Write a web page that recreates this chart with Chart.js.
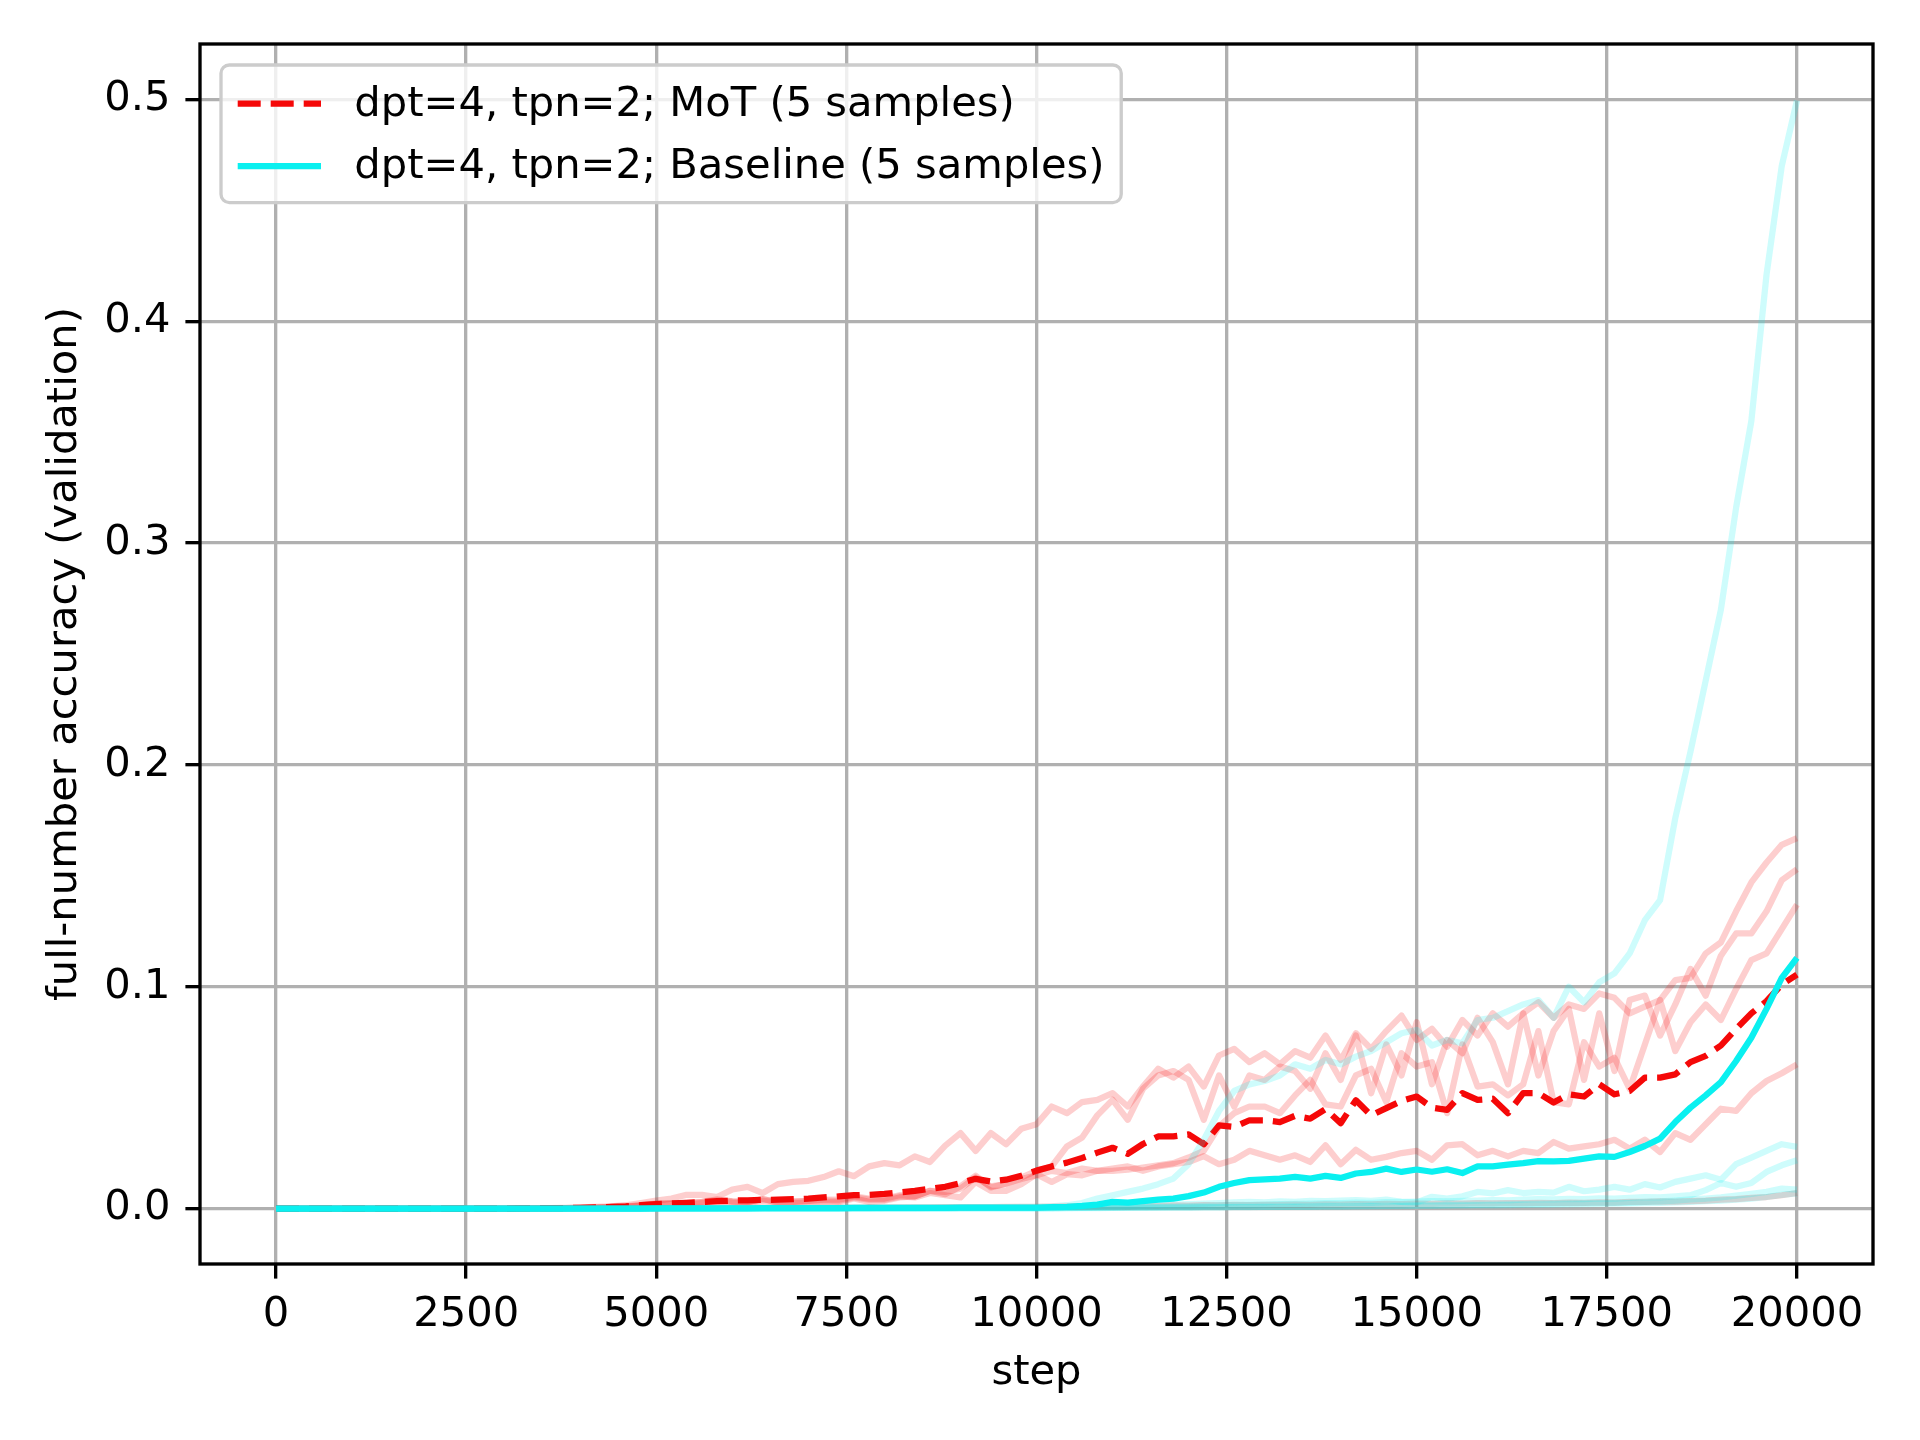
<!DOCTYPE html>
<html>
<head>
<meta charset="utf-8">
<title>full-number accuracy (validation)</title>
<script src="https://cdn.jsdelivr.net/npm/chart.js@4.4.1/dist/chart.umd.min.js"></script>
<style>
  html, body { margin: 0; padding: 0; background: #fff; }
  #wrap { width: 1920px; height: 1440px; }
</style>
</head>
<body>
<div id="wrap"><canvas id="accChart" width="1920" height="1440"></canvas></div>
<script>
// --- data (one value every 200 steps) ---
const steps = [
    0, 200, 400, 600, 800, 1000, 1200, 1400, 1600, 1800,
    2000, 2200, 2400, 2600, 2800, 3000, 3200, 3400, 3600, 3800,
    4000, 4200, 4400, 4600, 4800, 5000, 5200, 5400, 5600, 5800,
    6000, 6200, 6400, 6600, 6800, 7000, 7200, 7400, 7600, 7800,
    8000, 8200, 8400, 8600, 8800, 9000, 9200, 9400, 9600, 9800,
    10000, 10200, 10400, 10600, 10800, 11000, 11200, 11400, 11600, 11800,
    12000, 12200, 12400, 12600, 12800, 13000, 13200, 13400, 13600, 13800,
    14000, 14200, 14400, 14600, 14800, 15000, 15200, 15400, 15600, 15800,
    16000, 16200, 16400, 16600, 16800, 17000, 17200, 17400, 17600, 17800,
    18000, 18200, 18400, 18600, 18800, 19000, 19200, 19400, 19600, 19800,
    20000
];

const xTicks = [0, 2500, 5000, 7500, 10000, 12500, 15000, 17500, 20000];
const yTicks = [0, 0.1, 0.2, 0.3, 0.4, 0.5];

const motLabel = 'dpt=4, tpn=2; MoT (5 samples)';
const baseLabel = 'dpt=4, tpn=2; Baseline (5 samples)';

// MoT runs
const mot1 = [
    0, 0, 0, 0, 0, 0, 0, 0, 0, 0,
    0, 0, 0, 0, 0, 0, 0.0001, 0.0002, 0.0002, 0.0003,
    0.0005, 0.0008, 0.001, 0.0015, 0.0025, 0.0036, 0.0045, 0.0062, 0.0062, 0.0052,
    0.0086, 0.0098, 0.007, 0.011, 0.012, 0.0125, 0.0142, 0.0168, 0.0146, 0.019,
    0.0205, 0.0195, 0.0235, 0.021, 0.0284, 0.034, 0.026, 0.034, 0.029, 0.036,
    0.038, 0.046, 0.043, 0.048, 0.049, 0.052, 0.046, 0.055, 0.063, 0.059,
    0.064, 0.055, 0.069, 0.072, 0.066, 0.070, 0.065, 0.071, 0.068, 0.078,
    0.067, 0.079, 0.072, 0.080, 0.087, 0.076, 0.081, 0.073, 0.085, 0.078,
    0.088, 0.082, 0.088, 0.093, 0.086, 0.092, 0.090, 0.097, 0.095, 0.088,
    0.091, 0.094, 0.103, 0.104, 0.115, 0.120, 0.134, 0.147, 0.156, 0.164,
    0.167
];
const mot2 = [
    0, 0, 0, 0, 0, 0, 0, 0, 0, 0,
    0, 0, 0, 0, 0, 0, 0.0001, 0.0001, 0.0002, 0.0002,
    0.0003, 0.0005, 0.0007, 0.001, 0.0016, 0.0022, 0.0024, 0.0022, 0.0029, 0.0037,
    0.0032, 0.003, 0.0042, 0.0032, 0.0032, 0.0035, 0.004, 0.004, 0.0055, 0.0045,
    0.0045, 0.006, 0.0055, 0.008, 0.0075, 0.009, 0.014, 0.010, 0.011, 0.014,
    0.017, 0.019, 0.028, 0.032, 0.042, 0.049, 0.040, 0.054, 0.060, 0.062,
    0.058, 0.040, 0.060, 0.046, 0.060, 0.058, 0.064, 0.062, 0.054, 0.070,
    0.058, 0.078, 0.052, 0.074, 0.060, 0.084, 0.056, 0.076, 0.070, 0.086,
    0.075, 0.056, 0.088, 0.060, 0.080, 0.090, 0.058, 0.088, 0.062, 0.094,
    0.096, 0.078, 0.092, 0.108, 0.096, 0.114, 0.124, 0.124, 0.134, 0.148,
    0.153
];
const mot3 = [
    0, 0, 0, 0, 0, 0, 0, 0, 0, 0,
    0, 0, 0, 0, 0, 0, 0, 0.0001, 0.0001, 0.0002,
    0.0002, 0.0003, 0.0005, 0.0008, 0.0012, 0.0018, 0.002, 0.0018, 0.0025, 0.003,
    0.0027, 0.0026, 0.0035, 0.0028, 0.003, 0.0034, 0.0037, 0.0034, 0.005, 0.004,
    0.004, 0.0055, 0.005, 0.007, 0.006, 0.005, 0.012, 0.008, 0.008, 0.011,
    0.0155, 0.012, 0.0155, 0.015, 0.017, 0.017, 0.0175, 0.0185, 0.0195, 0.0205,
    0.023, 0.026, 0.037, 0.043, 0.046, 0.046, 0.043, 0.051, 0.058, 0.047,
    0.046, 0.060, 0.063, 0.048, 0.070, 0.064, 0.066, 0.043, 0.074, 0.055,
    0.056, 0.051, 0.056, 0.080, 0.048, 0.047, 0.075, 0.064, 0.068, 0.054,
    0.074, 0.094, 0.071, 0.084, 0.092, 0.085, 0.099, 0.112, 0.115, 0.126,
    0.137
];
const mot4 = [
    0, 0, 0, 0, 0, 0, 0, 0, 0, 0,
    0, 0, 0, 0, 0, 0, 0.0001, 0.0001, 0.0002, 0.0002,
    0.0003, 0.0004, 0.0006, 0.0009, 0.0014, 0.0021, 0.0023, 0.0026, 0.003, 0.0042,
    0.0032, 0.0029, 0.0043, 0.0026, 0.0024, 0.0027, 0.0027, 0.0029, 0.0045, 0.003,
    0.0035, 0.005, 0.0055, 0.008, 0.0065, 0.010, 0.0148, 0.0095, 0.0113, 0.0133,
    0.015, 0.017, 0.016, 0.018, 0.017, 0.018, 0.019, 0.017, 0.019, 0.020,
    0.021, 0.0236, 0.020, 0.022, 0.026, 0.024, 0.022, 0.024, 0.021, 0.0285,
    0.020, 0.0265, 0.022, 0.0233, 0.025, 0.026, 0.022, 0.0285, 0.029, 0.024,
    0.026, 0.0235, 0.026, 0.025, 0.030, 0.027, 0.028, 0.029, 0.031, 0.027,
    0.031, 0.0255, 0.034, 0.031, 0.038, 0.045, 0.044, 0.052, 0.0575, 0.061,
    0.065
];
const mot5 = [
    0, 0, 0, 0, 0, 0, 0, 0, 0, 0,
    0, 0, 0, 0, 0, 0, 0, 0, 0, 0,
    0, 0, 0, 0.0001, 0.0001, 0.0002, 0.0002, 0.0002, 0.0003, 0.0003,
    0.0004, 0.0004, 0.0004, 0.0004, 0.0004, 0.0004, 0.0004, 0.0004, 0.0004, 0.0005,
    0.0005, 0.0005, 0.0005, 0.0005, 0.0006, 0.0006, 0.0006, 0.0006, 0.0007, 0.0007,
    0.0008, 0.0009, 0.001, 0.001, 0.0011, 0.0012, 0.001, 0.0013, 0.0012, 0.0014,
    0.0013, 0.0015, 0.0014, 0.0016, 0.0015, 0.0017, 0.0016, 0.0018, 0.0017, 0.0019,
    0.0018, 0.002, 0.0019, 0.0021, 0.002, 0.0022, 0.0021, 0.0023, 0.0022, 0.0024,
    0.0023, 0.0025, 0.0024, 0.0026, 0.0025, 0.0027, 0.0026, 0.0028, 0.0027, 0.003,
    0.003, 0.0032, 0.0031, 0.0034, 0.0036, 0.004, 0.0042, 0.0048, 0.0052, 0.006,
    0.007
];
const motMean = [
    0, 0, 0, 0, 0, 0, 0, 0, 0, 0,
    0, 0, 0, 0, 0, 0, 0.0001, 0.0001, 0.0002, 0.0002,
    0.0003, 0.0005, 0.0007, 0.001, 0.0015, 0.002, 0.0023, 0.0026, 0.003, 0.0033,
    0.0036, 0.0037, 0.0039, 0.004, 0.0042, 0.0045, 0.005, 0.0055, 0.006, 0.0062,
    0.0066, 0.0073, 0.008, 0.0089, 0.0098, 0.0115, 0.0134, 0.0122, 0.013, 0.0148,
    0.0171, 0.019, 0.0207, 0.0228, 0.0252, 0.0274, 0.0247, 0.0291, 0.0325, 0.0325,
    0.0334, 0.029, 0.0375, 0.0368, 0.0398, 0.0398, 0.039, 0.0418, 0.0405, 0.0448,
    0.0385, 0.0488, 0.042, 0.0453, 0.0485, 0.0505, 0.0455, 0.0445, 0.052, 0.049,
    0.0495, 0.043, 0.052, 0.052, 0.0478, 0.0515, 0.0505, 0.056, 0.0515, 0.053,
    0.059, 0.059, 0.0605, 0.066, 0.0688, 0.0735, 0.081, 0.088, 0.0935, 0.101,
    0.1055
];

// Baseline runs
const base1 = [
    0, 0, 0, 0, 0, 0, 0, 0, 0, 0,
    0, 0, 0, 0, 0, 0, 0, 0, 0, 0,
    0, 0, 0.0001, 0.0001, 0.0001, 0.0001, 0.0001, 0.0002, 0.0002, 0.0002,
    0.0002, 0.0002, 0.0002, 0.0003, 0.0003, 0.0003, 0.0003, 0.0003, 0.0004, 0.0004,
    0.0004, 0.0004, 0.0005, 0.0005, 0.0005, 0.0005, 0.0006, 0.0006, 0.0006, 0.0007,
    0.0008, 0.001, 0.0015, 0.0025, 0.0045, 0.006, 0.0075, 0.009, 0.011, 0.0135,
    0.020, 0.031, 0.044, 0.053, 0.056, 0.0575, 0.060, 0.065, 0.063, 0.067,
    0.065, 0.0685, 0.071, 0.075, 0.079, 0.0805, 0.0735, 0.076, 0.0745, 0.085,
    0.086, 0.089, 0.092, 0.094, 0.086, 0.100, 0.093, 0.102, 0.106, 0.115,
    0.130, 0.139, 0.176, 0.206, 0.238, 0.270, 0.316, 0.355, 0.421, 0.470,
    0.4995
];
const base2 = [
    0, 0, 0, 0, 0, 0, 0, 0, 0, 0,
    0, 0, 0, 0, 0, 0, 0, 0, 0, 0,
    0, 0, 0, 0, 0, 0.0001, 0.0001, 0.0001, 0.0001, 0.0001,
    0.0001, 0.0001, 0.0001, 0.0001, 0.0001, 0.0001, 0.0001, 0.0001, 0.0001, 0.0001,
    0.0001, 0.0001, 0.0001, 0.0002, 0.0002, 0.0002, 0.0002, 0.0002, 0.0002, 0.0002,
    0.0002, 0.0003, 0.0004, 0.0005, 0.0008, 0.001, 0.0012, 0.0012, 0.0015, 0.0018,
    0.002, 0.0022, 0.0025, 0.0028, 0.003, 0.0028, 0.0032, 0.003, 0.0035, 0.0033,
    0.0036, 0.0038, 0.0035, 0.004, 0.003, 0.0028, 0.0053, 0.0045, 0.0055, 0.0075,
    0.0068, 0.0083, 0.007, 0.0075, 0.0072, 0.0098, 0.0078, 0.0085, 0.0098, 0.0085,
    0.011, 0.0095, 0.012, 0.0135, 0.015, 0.013, 0.020, 0.023, 0.026, 0.029,
    0.0278
];
const base3 = [
    0, 0, 0, 0, 0, 0, 0, 0, 0, 0,
    0, 0, 0, 0, 0, 0, 0, 0, 0, 0,
    0, 0, 0, 0, 0, 0, 0, 0, 0, 0,
    0.0001, 0.0001, 0.0001, 0.0001, 0.0001, 0.0001, 0.0001, 0.0001, 0.0001, 0.0001,
    0.0001, 0.0001, 0.0001, 0.0001, 0.0001, 0.0002, 0.0002, 0.0002, 0.0002, 0.0002,
    0.0002, 0.0002, 0.0003, 0.0003, 0.0004, 0.0005, 0.0006, 0.0007, 0.0008, 0.0009,
    0.001, 0.0012, 0.0014, 0.0015, 0.0017, 0.0018, 0.002, 0.0021, 0.0022, 0.0024,
    0.0025, 0.0027, 0.0026, 0.0029, 0.003, 0.0031, 0.0033, 0.0032, 0.0035, 0.0036,
    0.0038, 0.0037, 0.004, 0.0042, 0.0041, 0.0044, 0.0043, 0.0046, 0.0045, 0.0048,
    0.0052, 0.005, 0.0055, 0.006, 0.0083, 0.0115, 0.0098, 0.0115, 0.0165, 0.0195,
    0.0218
];
const base4 = [
    0, 0, 0, 0, 0, 0, 0, 0, 0, 0,
    0, 0, 0, 0, 0, 0, 0, 0, 0, 0,
    0, 0, 0, 0, 0, 0, 0, 0, 0, 0,
    0.0001, 0.0001, 0.0001, 0.0001, 0.0001, 0.0001, 0.0001, 0.0001, 0.0001, 0.0001,
    0.0001, 0.0001, 0.0001, 0.0001, 0.0001, 0.0002, 0.0002, 0.0002, 0.0002, 0.0002,
    0.0002, 0.0002, 0.0002, 0.0003, 0.0003, 0.0003, 0.0004, 0.0004, 0.0004, 0.0005,
    0.0005, 0.0006, 0.0006, 0.0007, 0.0007, 0.0008, 0.0008, 0.0009, 0.0009, 0.001,
    0.001, 0.0011, 0.0012, 0.0012, 0.0013, 0.0014, 0.0014, 0.0015, 0.0016, 0.0017,
    0.0018, 0.0019, 0.002, 0.0021, 0.0022, 0.0023, 0.0024, 0.0025, 0.0026, 0.0027,
    0.003, 0.0032, 0.0036, 0.0041, 0.0045, 0.005, 0.0058, 0.0066, 0.0075, 0.009,
    0.0085
];
const base5 = [
    0, 0, 0, 0, 0, 0, 0, 0, 0, 0,
    0, 0, 0, 0, 0, 0, 0, 0, 0, 0,
    0, 0, 0, 0, 0, 0, 0, 0, 0, 0,
    0, 0, 0, 0, 0, 0, 0, 0, 0, 0,
    0.0001, 0.0001, 0.0001, 0.0001, 0.0001, 0.0001, 0.0001, 0.0001, 0.0001, 0.0001,
    0.0001, 0.0001, 0.0002, 0.0002, 0.0002, 0.0003, 0.0003, 0.0003, 0.0004, 0.0004,
    0.0004, 0.0005, 0.0005, 0.0006, 0.0006, 0.0007, 0.0007, 0.0008, 0.0008, 0.0009,
    0.0009, 0.001, 0.001, 0.0011, 0.0011, 0.0012, 0.0012, 0.0013, 0.0013, 0.0014,
    0.0014, 0.0015, 0.0016, 0.0017, 0.0018, 0.0019, 0.002, 0.0021, 0.0022, 0.0023,
    0.0024, 0.0026, 0.0028, 0.003, 0.0033, 0.0036, 0.004, 0.0045, 0.0052, 0.0062,
    0.0068
];
const baseMean = [
    0, 0, 0, 0, 0, 0, 0, 0, 0, 0,
    0, 0, 0, 0, 0, 0, 0, 0, 0, 0,
    0, 0, 0, 0, 0, 0.0001, 0.0001, 0.0001, 0.0001, 0.0001,
    0.0001, 0.0001, 0.0002, 0.0002, 0.0002, 0.0002, 0.0002, 0.0002, 0.0003, 0.0003,
    0.0003, 0.0003, 0.0003, 0.0003, 0.0003, 0.0004, 0.0004, 0.0004, 0.0004, 0.0004,
    0.0004, 0.0006, 0.0008, 0.0012, 0.0018, 0.003, 0.0027, 0.0033, 0.004, 0.0045,
    0.0056, 0.0072, 0.0098, 0.0115, 0.0128, 0.0131, 0.0135, 0.0143, 0.0135, 0.0147,
    0.0138, 0.0158, 0.0165, 0.018, 0.0165, 0.0176, 0.0166, 0.0177, 0.016, 0.019,
    0.019, 0.0198, 0.0205, 0.0214, 0.0213, 0.0215, 0.0225, 0.0235, 0.0233, 0.0255,
    0.0282, 0.0315, 0.039, 0.0455, 0.051, 0.057, 0.0665, 0.077, 0.090, 0.104,
    0.113
];

// --- styling ---
const FONT = 'DejaVu Sans';
const FS = 41.67;            // 10pt at 300 dpi
const LW = 6.25;             // 1.5pt lines
const RED = 'rgb(245, 8, 8)';
const RED_FAINT = 'rgba(245, 8, 8, 0.2)';
const CYAN = 'rgb(10, 240, 240)';
const CYAN_FAINT = 'rgba(10, 240, 240, 0.2)';
const DASH = [23, 10];

Chart.defaults.font.family = FONT;
Chart.defaults.color = '#000';

function toPoints(values) {
    return steps.map((s, i) => ({ x: s, y: values[i] }));
}

function lineSet(label, values, color, order, dash) {
    return {
        label: label,
        data: toPoints(values),
        borderColor: color,
        backgroundColor: color,
        borderWidth: LW,
        borderDash: dash || [],
        borderJoinStyle: 'round',
        pointRadius: 0,
        tension: 0,
        fill: false,
        order: order
    };
}

// lower order is painted on top
const datasets = [
    lineSet('mot run 1', mot1, RED_FAINT, 6),
    lineSet('mot run 2', mot2, RED_FAINT, 6),
    lineSet('mot run 3', mot3, RED_FAINT, 6),
    lineSet('mot run 4', mot4, RED_FAINT, 6),
    lineSet('mot run 5', mot5, RED_FAINT, 6),
    lineSet(motLabel, motMean, RED, 4, DASH),
    lineSet('baseline run 1', base1, CYAN_FAINT, 2),
    lineSet('baseline run 2', base2, CYAN_FAINT, 2),
    lineSet('baseline run 3', base3, CYAN_FAINT, 2),
    lineSet('baseline run 4', base4, CYAN_FAINT, 2),
    lineSet('baseline run 5', base5, CYAN_FAINT, 2),
    lineSet(baseLabel, baseMean, CYAN, 0)
];
datasets[5].inLegend = true;
datasets[11].inLegend = true;

// black frame round the plot area (matplotlib spines)
const framePlugin = {
    id: 'frame',
    afterDatasetsDraw(chart) {
        const { ctx, chartArea: a } = chart;
        ctx.save();
        ctx.strokeStyle = '#000';
        ctx.lineWidth = 3.33;
        ctx.strokeRect(a.left, a.top, a.right - a.left, a.bottom - a.top);
        ctx.restore();
    }
};

// legend box in the upper-left corner of the plot area
const boxLegend = {
    id: 'boxLegend',
    afterDraw(chart) {
        const { ctx, chartArea: a } = chart;
        const items = chart.data.datasets.filter(d => d.inLegend);
        const x0 = a.left + 21, y0 = a.top + 21;
        const pad = 16.7, handle = 83.3, gap = 33.3, rowH = 62.5;
        ctx.save();
        ctx.font = FS + 'px "' + FONT + '"';
        let textW = 0;
        items.forEach(d => { textW = Math.max(textW, ctx.measureText(d.label).width); });
        const w = pad + handle + gap + textW + pad;
        const h = pad * 2 + rowH * items.length - 20.8;
        const r = 8.3;
        ctx.beginPath();
        ctx.moveTo(x0 + r, y0);
        ctx.arcTo(x0 + w, y0, x0 + w, y0 + h, r);
        ctx.arcTo(x0 + w, y0 + h, x0, y0 + h, r);
        ctx.arcTo(x0, y0 + h, x0, y0, r);
        ctx.arcTo(x0, y0, x0 + w, y0, r);
        ctx.closePath();
        ctx.fillStyle = 'rgba(255,255,255,0.8)';
        ctx.fill();
        ctx.strokeStyle = '#cccccc';
        ctx.lineWidth = 3.33;
        ctx.stroke();

        items.forEach((d, i) => {
            const cy = y0 + pad + 22 + i * rowH;
            ctx.beginPath();
            ctx.setLineDash(d.borderDash);
            ctx.strokeStyle = d.borderColor;
            ctx.lineWidth = LW;
            ctx.moveTo(x0 + pad, cy);
            ctx.lineTo(x0 + pad + handle, cy);
            ctx.stroke();
            ctx.setLineDash([]);
            ctx.fillStyle = '#000';
            ctx.textAlign = 'left';
            ctx.textBaseline = 'middle';
            ctx.fillText(d.label, x0 + pad + handle + gap, cy + 1);
        });
        ctx.restore();
    }
};

const gridOpts = {
    color: '#b0b0b0',
    lineWidth: 3.33,
    tickColor: '#000',
    tickWidth: 3.33,
    tickLength: 14.6
};

const ctx = document.getElementById('accChart').getContext('2d');
new Chart(ctx, {
    type: 'line',
    data: { datasets: datasets },
    plugins: [framePlugin, boxLegend],
    options: {
        responsive: false,
        animation: false,
        devicePixelRatio: 1,
        layout: { padding: { top: 44, right: 47, left: 0, bottom: 0 } },
        plugins: {
            legend: { display: false },
            tooltip: { enabled: false }
        },
        scales: {
            x: {
                type: 'linear',
                min: -1000,
                max: 21000,
                afterBuildTicks: s => { s.ticks = xTicks.map(v => ({ value: v })); },
                afterFit: s => { s.height = 176; },
                grid: gridOpts,
                border: { display: false },
                ticks: {
                    font: { size: FS },
                    color: '#000',
                    padding: 12,
                    maxRotation: 0,
                    autoSkip: false,
                    callback: v => String(v)
                },
                title: {
                    display: true,
                    text: 'step',
                    color: '#000',
                    font: { size: FS },
                    padding: { top: 0, bottom: 42 }
                }
            },
            y: {
                type: 'linear',
                min: -0.025,
                max: 0.525,
                afterBuildTicks: s => { s.ticks = yTicks.map(v => ({ value: v })); },
                afterFit: s => { s.width = 200; },
                grid: gridOpts,
                border: { display: false },
                ticks: {
                    font: { size: FS },
                    color: '#000',
                    padding: 15,
                    autoSkip: false,
                    callback: v => v.toFixed(1)
                },
                title: {
                    display: true,
                    text: 'full-number accuracy (validation)',
                    color: '#000',
                    font: { size: FS },
                    padding: { top: 40, bottom: 0 }
                }
            }
        }
    }
});
</script>
</body>
</html>
